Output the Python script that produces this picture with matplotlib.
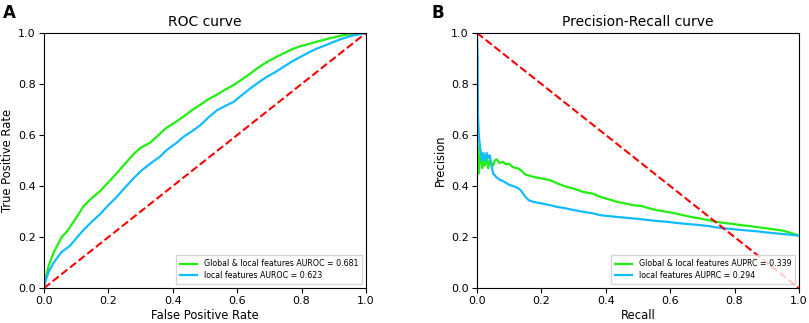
import matplotlib.pyplot as plt

# ROC data
roc_fpr_g = [0, 0.005, 0.015, 0.03, 0.055, 0.07, 0.1, 0.122, 0.15, 0.174, 0.2, 0.226, 0.25, 0.278,
             0.3, 0.33, 0.36, 0.38, 0.41, 0.433, 0.46, 0.485, 0.51, 0.537, 0.56, 0.589, 0.615,
             0.64, 0.665, 0.692, 0.72, 0.744, 0.77, 0.796, 0.82, 0.848, 0.875, 0.9, 0.925, 0.95,
             0.975, 1.0]
roc_tpr_g = [0, 0.04, 0.09, 0.14, 0.2, 0.22, 0.275, 0.32, 0.355, 0.38, 0.415, 0.45, 0.485, 0.525,
             0.55, 0.57, 0.605, 0.628, 0.652, 0.672, 0.698, 0.718, 0.74, 0.758, 0.776, 0.796, 0.818,
             0.84, 0.864, 0.886, 0.905, 0.92, 0.936, 0.948, 0.956, 0.966, 0.975, 0.983, 0.99, 0.995,
             0.998, 1.0]
roc_fpr_b = [0, 0.005, 0.015, 0.03, 0.055, 0.08, 0.1, 0.122, 0.15, 0.174, 0.2, 0.226, 0.25, 0.278,
             0.3, 0.33, 0.36, 0.38, 0.41, 0.433, 0.46, 0.485, 0.51, 0.537, 0.56, 0.589, 0.615,
             0.64, 0.665, 0.692, 0.72, 0.744, 0.77, 0.796, 0.82, 0.848, 0.875, 0.9, 0.925, 0.95,
             0.975, 1.0]
roc_tpr_b = [0, 0.03, 0.065, 0.1, 0.142, 0.165, 0.195, 0.227, 0.262, 0.29, 0.325, 0.358, 0.392, 0.43,
             0.458, 0.488, 0.515, 0.54, 0.568, 0.593, 0.615, 0.638, 0.668, 0.697, 0.712, 0.73, 0.757,
             0.782, 0.805, 0.828, 0.848, 0.867, 0.888, 0.906, 0.922, 0.939, 0.952, 0.965, 0.977,
             0.987, 0.994, 1.0]

# Precision-Recall data
pr_rec_g = [0, 0.002, 0.004, 0.006, 0.008, 0.01, 0.013, 0.016, 0.02, 0.025, 0.03, 0.035, 0.04,
            0.045, 0.05, 0.055, 0.061, 0.07, 0.08, 0.09, 0.1, 0.11, 0.123, 0.13, 0.14, 0.15, 0.175,
            0.2, 0.227, 0.25, 0.278, 0.3, 0.33, 0.36, 0.382, 0.41, 0.434, 0.46, 0.485, 0.51, 0.537,
            0.56, 0.589, 0.615, 0.64, 0.665, 0.692, 0.72, 0.744, 0.77, 0.796, 0.82, 0.848, 0.875,
            0.9, 0.925, 0.951, 0.975, 1.0]
pr_prec_g = [0.62, 0.5, 0.55, 0.45, 0.52, 0.49, 0.53, 0.47, 0.5, 0.48, 0.52, 0.47, 0.5, 0.49,
             0.48, 0.5, 0.505, 0.49, 0.495, 0.485, 0.488, 0.475, 0.47, 0.468, 0.458, 0.445, 0.436,
             0.43, 0.423, 0.41, 0.397, 0.39, 0.377, 0.37, 0.358, 0.348, 0.338, 0.332, 0.325, 0.322,
             0.312, 0.305, 0.299, 0.293, 0.286, 0.279, 0.273, 0.266, 0.26, 0.255, 0.251, 0.247,
             0.243, 0.238, 0.234, 0.23, 0.225, 0.216, 0.206]
pr_rec_b = [0, 0.002, 0.003, 0.005, 0.007, 0.01, 0.013, 0.016, 0.02, 0.025, 0.03, 0.035, 0.04,
            0.045, 0.05, 0.06, 0.07, 0.08, 0.1, 0.123, 0.135, 0.149, 0.16, 0.175, 0.2, 0.227, 0.25,
            0.278, 0.3, 0.33, 0.36, 0.382, 0.41, 0.434, 0.46, 0.485, 0.51, 0.537, 0.56, 0.589,
            0.615, 0.64, 0.665, 0.692, 0.72, 0.744, 0.77, 0.796, 0.82, 0.848, 0.875, 0.9, 0.95, 1.0]
pr_prec_b = [1.0, 0.9, 0.68, 0.62, 0.58, 0.55, 0.52, 0.5, 0.53, 0.5, 0.53, 0.51, 0.52, 0.48,
             0.45, 0.435, 0.425, 0.42, 0.405, 0.395, 0.385, 0.36, 0.345, 0.338, 0.332, 0.325,
             0.318, 0.312, 0.306, 0.299, 0.293, 0.286, 0.282, 0.279, 0.276, 0.273, 0.27, 0.266,
             0.263, 0.26, 0.256, 0.253, 0.25, 0.247, 0.243, 0.238, 0.234, 0.231, 0.228, 0.225,
             0.222, 0.218, 0.212, 0.206]

auroc = [0.681, 0.623]
auprc = [0.339, 0.294]

green = '#22ee11'
blue = '#11bbff'

fig = plt.figure(figsize=(8.09, 3.23), dpi=100)
ax1 = fig.add_axes([0.0544, 0.108, 0.398, 0.79])
ax2 = fig.add_axes([0.5896, 0.108, 0.398, 0.79])

ax1.plot(roc_fpr_g, roc_tpr_g, color=green, lw=1.6,
         label='Global & local features AUROC = %.3f' % auroc[0])
ax1.plot(roc_fpr_b, roc_tpr_b, color=blue, lw=1.6,
         label='local features AUROC = %.3f' % auroc[1])
ax1.plot([0, 1], [0, 1], color='red', lw=1.5, ls='--')
ax1.set_title('ROC curve', fontsize=10, pad=5)
ax1.set_xlabel('False Positive Rate', fontsize=8.3, labelpad=2)
ax1.set_ylabel('True Positive Rate', fontsize=8.3, labelpad=3)

ax2.plot(pr_rec_g, pr_prec_g, color=green, lw=1.6,
         label='Global & local features AUPRC = %.3f' % auprc[0])
ax2.plot(pr_rec_b, pr_prec_b, color=blue, lw=1.6,
         label='local features AUPRC = %.3f' % auprc[1])
ax2.plot([0, 1], [1, 0], color='red', lw=1.5, ls='--')
ax2.set_title('Precision-Recall curve', fontsize=10, pad=5)
ax2.set_xlabel('Recall', fontsize=8.3, labelpad=2)
ax2.set_ylabel('Precision', fontsize=8.3, labelpad=3)

for ax in (ax1, ax2):
    ax.set_xlim(0, 1)
    ax.set_ylim(0, 1)
    ax.tick_params(labelsize=8, length=3.5, pad=2.5)
    ax.legend(loc='lower right', fontsize=5.7, handlelength=2.2, borderpad=0.5,
              labelspacing=0.35, fancybox=False, edgecolor='#cccccc')

fig.text(0.004, 0.945, 'A', fontsize=12, fontweight='bold')
fig.text(0.533, 0.945, 'B', fontsize=12, fontweight='bold')

fig.savefig('out.png', dpi=100)
